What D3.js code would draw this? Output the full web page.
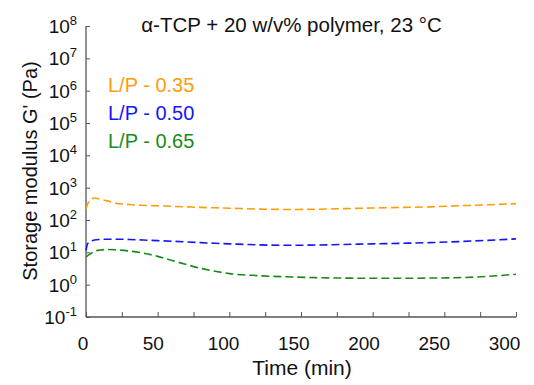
<!DOCTYPE html>
<html>
<head>
<meta charset="utf-8">
<script src="https://cdn.jsdelivr.net/npm/d3@7"></script>
<style>
body { margin: 0; background: #fff; }
text { font-family: "Liberation Sans", Arial, sans-serif; fill: #111; }
</style>
</head>
<body>
<div id="chart"></div>
<script>
var margin = { top: 26, right: 18, bottom: 68, left: 86 };
var width = 534 - margin.left - margin.right;
var height = 385 - margin.top - margin.bottom;

// time points (min) and G' values (Pa)
var time = [0, 1, 3, 6, 10, 15, 20, 30, 40, 50, 60, 70, 80, 90, 100, 120, 140, 160, 180, 200, 220, 240, 260, 280, 300];
var lp035 = [220, 300, 420, 480, 440, 390, 340, 300, 285, 275, 265, 255, 245, 238, 232, 218, 212, 215, 225, 235, 245, 255, 275, 295, 320];
var lp050 = [11.5, 18, 22, 24, 25, 25.5, 25.5, 25, 24, 23, 22, 21, 20, 19, 18.3, 17, 16.5, 16.8, 17.5, 18.3, 19, 20, 21.5, 23.5, 26];
var lp065 = [7.2, 7.8, 9, 10.8, 11.8, 12.2, 12, 11, 9.5, 7.5, 5.6, 4.2, 3.2, 2.6, 2.2, 1.9, 1.75, 1.65, 1.6, 1.58, 1.58, 1.6, 1.65, 1.8, 2.1];
var seriesNames = ["L/P - 0.35", "L/P - 0.50", "L/P - 0.65"];
var seriesColors = ["#ff9c0a", "#1515f5", "#1a8a1a"];
var xTicks = [0, 50, 100, 150, 200, 250, 300];
var xMinor = [25, 75, 125, 175, 225, 275];
var yExps = [-1, 0, 1, 2, 3, 4, 5, 6, 7, 8];

var svg = d3.select("#chart").append("svg")
    .attr("width", 534).attr("height", 385)
    .append("g").attr("transform", "translate(" + margin.left + "," + margin.top + ")");

var x = d3.scaleLinear().domain([0, 300]).range([0, width]);
var y = d3.scaleLog().domain([0.1, 1e8]).range([height, 0]);
// tick labels in the picture sit slightly left of their ticks
var xLabel = d3.scaleLinear().domain([0, 300]).range([-3, 418.5]);

// x axis, ticks pointing inward
var xAxis = svg.append("g").attr("transform", "translate(0," + height + ")")
    .call(d3.axisBottom(x).tickValues(xTicks.concat(xMinor)).tickSize(-5).tickFormat(""));
xAxis.select(".domain").attr("stroke", "#555").attr("stroke-width", 1.3).attr("d", "M0,0H" + width);
xAxis.selectAll(".tick line").attr("stroke", "#555");

svg.selectAll(".xlab").data(xTicks).enter().append("text")
    .attr("x", d => xLabel(d)).attr("y", height + 33)
    .attr("text-anchor", "middle").style("font-size", "19px").text(d => d);

// y axis
var yAxis = svg.append("g")
    .call(d3.axisLeft(y).tickValues(yExps.map(e => Math.pow(10, e))).tickSize(-4).tickFormat(""));
yAxis.select(".domain").attr("stroke", "#555").attr("stroke-width", 1.3).attr("d", "M0," + height + "V0");
yAxis.selectAll(".tick line").attr("stroke", "#555");

var ylab = svg.selectAll(".ylab").data(yExps).enter().append("text")
    .attr("x", -9).attr("y", d => y(Math.pow(10, d)) + 7)
    .attr("text-anchor", "end").style("font-size", "19px");
ylab.append("tspan").text("10");
ylab.append("tspan").attr("dy", -8).style("font-size", "13px").text(d => d < 0 ? "-" + (-d) : d);

// axis titles
svg.append("text").attr("x", 216).attr("y", height + 58)
    .attr("text-anchor", "middle").style("font-size", "21px").text("Time (min)");
svg.append("text").attr("transform", "rotate(-90)")
    .attr("x", -145).attr("y", -49)
    .attr("text-anchor", "middle").style("font-size", "20px").text("Storage modulus G' (Pa)");

svg.append("text").attr("x", 205.5).attr("y", 6)
    .attr("text-anchor", "middle").style("font-size", "20.5px").text("α-TCP + 20 w/v% polymer, 23 °C");

// curves
var series = [lp035, lp050, lp065];
var line = d3.line().x((d, i) => x(time[i])).y(d => y(d)).curve(d3.curveMonotoneX);
svg.selectAll(".curve").data(series).enter().append("path")
    .attr("d", d => line(d))
    .attr("fill", "none")
    .attr("stroke", (d, i) => seriesColors[i])
    .attr("stroke-width", 1.6)
    .attr("stroke-dasharray", "8,4");

// legend text
svg.selectAll(".leg").data(seriesNames).enter().append("text")
    .attr("x", 22).attr("y", (d, i) => 66 + i * 28)
    .style("font-size", "20px")
    .style("fill", (d, i) => seriesColors[i])
    .text(d => d);
</script>
</body>
</html>
